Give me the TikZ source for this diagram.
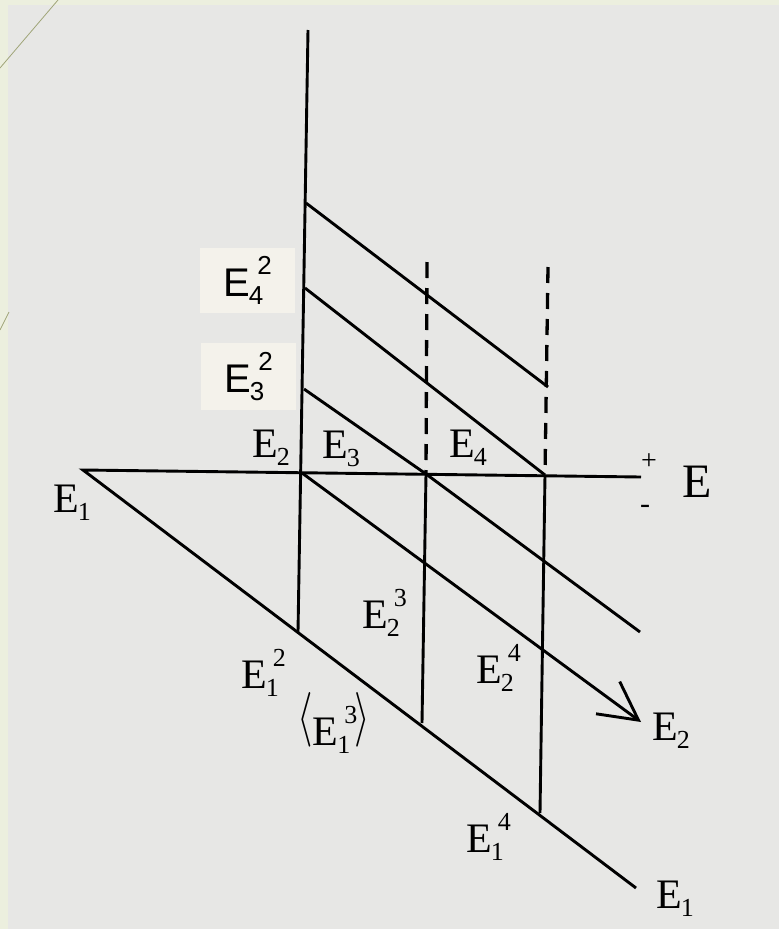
\documentclass[tikz,border=0pt]{standalone}
\usepackage{fontspec}
\setmainfont{Liberation Serif}
\newfontfamily\labsans{Liberation Sans}
\usetikzlibrary{arrows.meta}

\definecolor{pagegray}{RGB}{231,231,229}
\definecolor{slidegreen}{RGB}{236,239,222}
\definecolor{boxcream}{RGB}{244,242,235}
\definecolor{deco}{RGB}{160,165,120}

\newcommand{\subsz}{\fontsize{26}{26}\selectfont}
\newcommand{\Es}[1]{E\kern-1pt\raisebox{-8pt}{\subsz #1}}
\newcommand{\Ess}[2]{E\kern-1pt\raisebox{-8pt}{\subsz #1}\kern-6pt\raisebox{22pt}{\subsz #2}}
\newcommand{\bigbr}[1]{\raisebox{12pt}{\scalebox{1.6}[2.2]{$#1$}}}

\tikzset{
  lab/.style={font=\fontsize{42}{42}\selectfont, inner sep=0pt, anchor=base west},
  boxlab/.style={font=\labsans\fontsize{40}{40}\selectfont, fill=boxcream,
    minimum width=95pt, minimum height=65pt, inner sep=0pt},
  axis/.style={line width=2.9pt, line join=miter},
  guide/.style={line width=3.3pt, dash pattern=on 16pt off 10pt},
}

\begin{document}
\begin{tikzpicture}[x=1pt, y=-1pt]
    \useasboundingbox (0,0) rectangle (779,929);
    \fill[slidegreen] (0,0) rectangle (779,929);
    \fill[pagegray] (8,5) rectangle (779,929);
    \draw[deco, line width=0.8pt] (0,68) -- (58,0);
    \draw[deco, line width=0.8pt] (0,330) -- (9,312);

    % points of the figure
    \coordinate (top) at (308,30);
    \coordinate (E1l) at (83,470);
    \coordinate (E2p) at (302,473);
    \coordinate (E3p) at (426,474);
    \coordinate (E4p) at (545,475);
    \coordinate (Er) at (641,477);
    \coordinate (t1) at (306,203);
    \coordinate (t1e) at (548,387);
    \coordinate (t2) at (305,288);
    \coordinate (t3) at (304,389);
    \coordinate (d3) at (427,262);
    \coordinate (d4) at (548,267);
    \coordinate (E12) at (298,632);
    \coordinate (E13) at (422,723);
    \coordinate (E14) at (540,813);
    \coordinate (E1r) at (636,888);
    \coordinate (E2r) at (641,722);
    \coordinate (E3r) at (640,632);

    \draw[axis] (top) -- (E12);
    \draw[axis] (Er) -- (E1l) -- (E1r);
    \draw[axis] (E3p) -- (E13);
    \draw[axis] (E4p) -- (E14);
    \draw[axis] (t1) -- (t1e);
    \draw[axis] (t2) -- (E4p);
    \draw[axis] (t3) -- (E3p) -- (E3r);
    \draw[axis, -{Straight Barb[length=38pt, width=40pt]}] (E2p) -- (E2r);
    \draw[guide] (d3) -- (E3p);
    \draw[guide] (d4) -- (E4p);

    \node[lab] (lE1) at (53,512) {\Es{1}};
    \node[lab] (lE2) at (252,457) {\Es{2}};
    \node[lab] (lE3) at (322,458) {\Es{3}};
    \node[lab] (lE4) at (449,457) {\Es{4}};
    \node[lab, font=\fontsize{48}{48}\selectfont] (lE) at (682,497) {E};
    \node[font=\fontsize{28}{28}\selectfont, inner sep=0pt] (plus) at (649,462) {+};
    \node[font=\fontsize{30}{30}\selectfont, inner sep=0pt] (minus) at (645,509) {-};
    \node[lab] (lE23) at (362,628) {\Ess{2}{3}};
    \node[lab] (lE12) at (241,688) {\Ess{1}{2}};
    \node[lab] (lE13) at (297,745) {\bigbr{\langle}\kern0pt\Ess{1}{3}\kern-3pt\bigbr{\rangle}};
    \node[lab] (lE24) at (476,683) {\Ess{2}{4}};
    \node[lab] (lE2r) at (652,740) {\Es{2}};
    \node[lab] (lE14) at (466,852) {\Ess{1}{4}};
    \node[lab] (lE1r) at (656,908) {\Es{1}};

    \node[boxlab] (lE42) at (247.5,280) {\Ess{4}{2}};
    \node[boxlab, minimum height=67pt] (lE32) at (248.5,376.5) {\Ess{3}{2}};
\end{tikzpicture}
\end{document}
